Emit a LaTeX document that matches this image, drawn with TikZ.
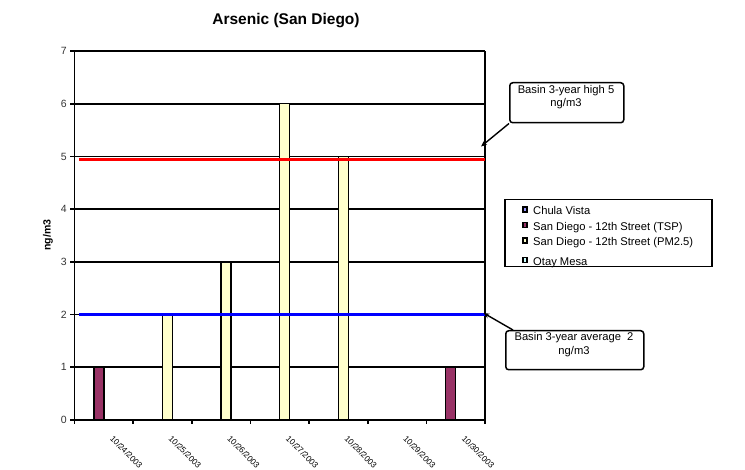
\documentclass[tikz,border=0pt]{standalone}
\usepackage{fontspec}
\setmainfont{Liberation Sans}
\usetikzlibrary{arrows.meta}
\definecolor{tspcol}{HTML}{993366}
\definecolor{pmcol}{HTML}{FFFFCC}
\definecolor{cvcol}{HTML}{9999FF}
\definecolor{otcol}{HTML}{CCFFFF}
\tikzset{
  axisline/.style={line width=1.6pt, black},
  gridline/.style={line width=1.6pt, black},
  barbox/.style={draw=black, line width=1.4pt},
  ticklab/.style={font=\fontsize{10.5}{12}\selectfont, text=black!80, inner sep=0pt},
  datelab/.style={font=\fontsize{8.3}{10}\selectfont, rotate=-45, anchor=north west, inner sep=0pt},
  callout/.style={draw=black, line width=1.5pt, rounded corners=3pt, fill=white},
  callouttext/.style={font=\fontsize{11.2}{13.5}\selectfont, align=center, inner sep=0pt},
  legtext/.style={font=\fontsize{11.2}{13}\selectfont, anchor=base west, inner sep=0pt},
  legmark/.style={draw=black, line width=1.3pt, minimum width=4pt, minimum height=5pt, inner sep=0pt},
  pointer/.style={line width=1.4pt, -{Stealth[length=6pt,width=5pt]}},
}
\begin{document}
\begin{tikzpicture}[x=1pt,y=-1pt]
\useasboundingbox (0,0) rectangle (745,470);
\def\yz{420}
\def\un{52.7}
\def\xl{74.5}
\def\xr{485}
\def\cw{58.64}
% title
\node[font=\bfseries\fontsize{15.5}{18}\selectfont] (title) at (286,20.5) {Arsenic (San Diego)};
% gridlines and y ticks
\foreach \v in {1,...,7}{
  \draw[gridline] (\xl,{\yz-\un*\v}) -- (\xr,{\yz-\un*\v});
}
\foreach \v in {0,...,7}{
  \draw[axisline] (70,{\yz-\un*\v}) -- (\xl,{\yz-\un*\v});
  \node[ticklab, anchor=east] (yl\v) at (67,{\yz-\un*\v}) {\v};
}
% right border
\draw[axisline] (\xr,{\yz-\un*7}) -- (\xr,\yz);
% bars: TSP (series 2) left of centre, PM2.5 (series 3) right of centre
\foreach \c/\v in {0/1,6/1}{
  \draw[barbox, fill=tspcol] ({\xl+\cw*(\c+0.5)-10},\yz) rectangle ({\xl+\cw*(\c+0.5)},{\yz-\un*\v});
}
\foreach \c/\v in {1/2,2/3,3/6,4/5}{
  \draw[barbox, fill=pmcol] ({\xl+\cw*(\c+0.5)},\yz) rectangle ({\xl+\cw*(\c+0.5)+10},{\yz-\un*\v});
}
% reference lines
\draw[line width=2.4pt, red] (79,{\yz-\un*4.94}) -- (\xr,{\yz-\un*4.94});
\draw[line width=2.4pt, blue] (79,{\yz-\un*2.0}) -- (\xr,{\yz-\un*2.0});
% axes
\draw[axisline] (\xl,{\yz-\un*7}) -- (\xl,\yz);
\draw[axisline] (\xl,\yz) -- (\xr,\yz);
\foreach \c in {0,...,7}{
  \draw[axisline] ({\xl+\cw*\c},\yz) -- ({\xl+\cw*\c},424.5);
}
% date labels
\foreach \c/\d in {0/24,1/25,2/26,3/27,4/28,5/29,6/30}{
  \node[datelab] (dl\c) at ({\xl+\cw*(\c+0.5)+10},435) {10/\d/2003};
}
% y axis title
\node[font=\bfseries\fontsize{10.5}{12}\selectfont, rotate=90] (ytitle) at (48,235) {ng/m3};
% callout high
\node[callout, minimum width=114pt, minimum height=40pt, anchor=north west] (hibox) at (509,82) {};
\node[callouttext, anchor=north] (hitext) at (566,85) {Basin 3-year high 5\\ng/m3};
\coordinate (hitip) at (481,146.5);
\draw[pointer] (hibox.south west) -- (hitip);
% callout average
\node[callout, minimum width=138pt, minimum height=39pt, anchor=north west] (avbox) at (505,330) {};
\node[callouttext, anchor=north] (avtext) at (574,332.5) {Basin 3-year average~~2\\ng/m3};
\coordinate (avtip) at (483.5,313);
\draw[pointer] ([xshift=8pt]avbox.north west) -- (avtip);
% legend
\node[draw=black, line width=1.5pt, minimum width=207pt, minimum height=67pt, anchor=north west, inner sep=0pt] (legend) at (504,199) {};
\foreach \i/\y/\col/\txt in {1/210.5/cvcol/Chula Vista,2/226/tspcol/San Diego - 12th Street (TSP),3/241.5/pmcol/San Diego - 12th Street (PM2.5),4/261/otcol/Otay Mesa}{
  \node[legmark, fill=\col] (lm\i) at (525,{\y-1}) {};
  \node[legtext] (lt\i) at (533,{\y+4.1}) {\txt};
}
\end{tikzpicture}
\end{document}
